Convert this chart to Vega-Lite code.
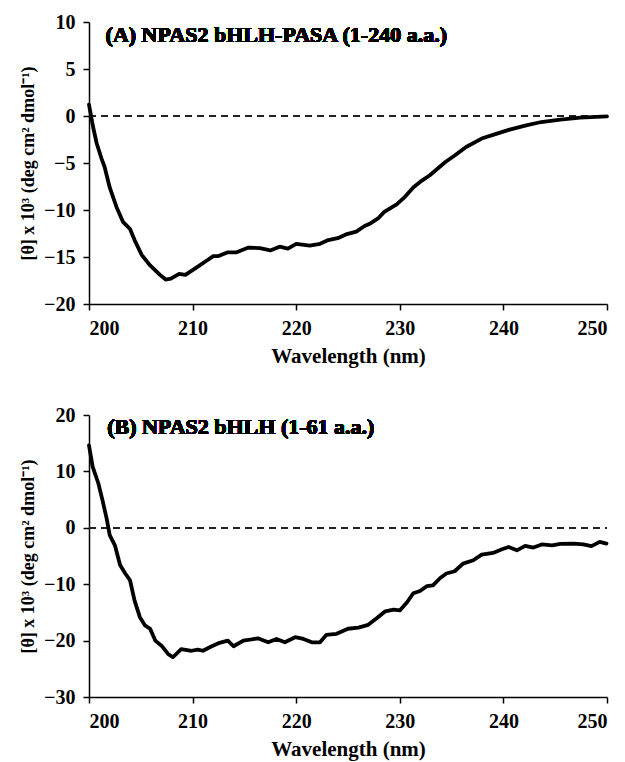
{
  "$schema": "https://vega.github.io/schema/vega-lite/v6.json",
  "background": "white",
  "padding": {"left": 19, "top": 12, "right": 10, "bottom": 5},
  "spacing": 39,
  "config": {
    "font": "Liberation Serif",
    "view": {"stroke": null},
    "text": {"font": "Liberation Serif"},
    "axis": {
      "grid": false,
      "domainColor": "black",
      "domainWidth": 1.5,
      "tickColor": "black",
      "tickWidth": 1.5,
      "tickSize": 6,
      "labelFont": "Liberation Serif",
      "labelFontSize": 20,
      "labelFontWeight": "bold",
      "labelColor": "black",
      "labelPadding": 8,
      "titleFont": "Liberation Serif",
      "titleFontWeight": "bold",
      "titleColor": "black"
    }
  },
  "datasets": {
    "A": [
      {"wl": 200.0, "v": 1.2}, {"wl": 200.4, "v": -1.2}, {"wl": 200.74, "v": -2.9}, {"wl": 201.2, "v": -4.5},
      {"wl": 201.5, "v": -5.4}, {"wl": 202.0, "v": -7.6}, {"wl": 202.66, "v": -9.7}, {"wl": 203.3, "v": -11.3},
      {"wl": 203.95, "v": -12.0}, {"wl": 204.4, "v": -13.2}, {"wl": 205.1, "v": -14.8}, {"wl": 205.9, "v": -15.9},
      {"wl": 206.85, "v": -16.9}, {"wl": 207.4, "v": -17.4}, {"wl": 207.9, "v": -17.3}, {"wl": 208.7, "v": -16.8},
      {"wl": 209.3, "v": -16.9}, {"wl": 210.4, "v": -16.1}, {"wl": 211.2, "v": -15.5}, {"wl": 212.0, "v": -14.9},
      {"wl": 212.5, "v": -14.9}, {"wl": 213.4, "v": -14.5}, {"wl": 214.25, "v": -14.5}, {"wl": 215.4, "v": -14.0},
      {"wl": 216.5, "v": -14.05}, {"wl": 217.5, "v": -14.3}, {"wl": 218.4, "v": -13.9}, {"wl": 219.2, "v": -14.1},
      {"wl": 220.0, "v": -13.6}, {"wl": 221.3, "v": -13.8}, {"wl": 222.3, "v": -13.6}, {"wl": 223.1, "v": -13.2},
      {"wl": 224.0, "v": -13.0}, {"wl": 224.8, "v": -12.6}, {"wl": 225.8, "v": -12.3}, {"wl": 226.6, "v": -11.7},
      {"wl": 227.2, "v": -11.4}, {"wl": 227.9, "v": -10.9}, {"wl": 228.5, "v": -10.2}, {"wl": 229.7, "v": -9.4},
      {"wl": 230.5, "v": -8.6}, {"wl": 231.3, "v": -7.6}, {"wl": 232.1, "v": -6.9}, {"wl": 232.9, "v": -6.3},
      {"wl": 234.4, "v": -4.9}, {"wl": 235.3, "v": -4.2}, {"wl": 236.4, "v": -3.3}, {"wl": 237.9, "v": -2.4},
      {"wl": 239.3, "v": -1.9}, {"wl": 240.6, "v": -1.45}, {"wl": 242.2, "v": -1.0}, {"wl": 243.65, "v": -0.64},
      {"wl": 245.5, "v": -0.38}, {"wl": 247.4, "v": -0.17}, {"wl": 249.0, "v": -0.1}, {"wl": 250.0, "v": -0.05}
    ],
    "B": [
      {"wl": 200.0, "v": 14.6}, {"wl": 200.35, "v": 10.85}, {"wl": 200.9, "v": 7.9}, {"wl": 201.3, "v": 4.9},
      {"wl": 201.7, "v": 1.66}, {"wl": 202.0, "v": -1.3}, {"wl": 202.5, "v": -3.1}, {"wl": 203.0, "v": -6.6},
      {"wl": 203.5, "v": -8.1}, {"wl": 203.96, "v": -9.3}, {"wl": 204.4, "v": -12.9}, {"wl": 204.9, "v": -15.8},
      {"wl": 205.4, "v": -17.3}, {"wl": 205.9, "v": -17.9}, {"wl": 206.4, "v": -20.0}, {"wl": 207.0, "v": -20.9},
      {"wl": 207.65, "v": -22.4}, {"wl": 208.1, "v": -22.95}, {"wl": 208.9, "v": -21.5}, {"wl": 209.9, "v": -21.8},
      {"wl": 210.5, "v": -21.6}, {"wl": 211.0, "v": -21.8}, {"wl": 211.8, "v": -21.05}, {"wl": 212.6, "v": -20.4},
      {"wl": 213.4, "v": -20.0}, {"wl": 213.95, "v": -21.0}, {"wl": 214.9, "v": -20.0}, {"wl": 215.7, "v": -19.8},
      {"wl": 216.3, "v": -19.6}, {"wl": 217.3, "v": -20.3}, {"wl": 218.1, "v": -19.7}, {"wl": 218.9, "v": -20.3},
      {"wl": 219.9, "v": -19.4}, {"wl": 220.7, "v": -19.7}, {"wl": 221.5, "v": -20.3}, {"wl": 222.3, "v": -20.3},
      {"wl": 222.9, "v": -19.0}, {"wl": 223.9, "v": -18.8}, {"wl": 225.0, "v": -17.9}, {"wl": 226.0, "v": -17.7},
      {"wl": 226.95, "v": -17.2}, {"wl": 227.8, "v": -16.0}, {"wl": 228.6, "v": -14.8}, {"wl": 229.4, "v": -14.5},
      {"wl": 230.0, "v": -14.65}, {"wl": 230.7, "v": -13.2}, {"wl": 231.3, "v": -11.6}, {"wl": 231.95, "v": -11.2},
      {"wl": 232.6, "v": -10.35}, {"wl": 233.2, "v": -10.2}, {"wl": 233.9, "v": -8.9}, {"wl": 234.5, "v": -8.1},
      {"wl": 235.3, "v": -7.7}, {"wl": 236.1, "v": -6.35}, {"wl": 237.1, "v": -5.75}, {"wl": 237.9, "v": -4.75},
      {"wl": 239.0, "v": -4.45}, {"wl": 239.8, "v": -3.85}, {"wl": 240.5, "v": -3.4}, {"wl": 241.3, "v": -4.0},
      {"wl": 242.1, "v": -3.2}, {"wl": 242.9, "v": -3.5}, {"wl": 243.7, "v": -2.95}, {"wl": 244.7, "v": -3.1},
      {"wl": 245.5, "v": -2.85}, {"wl": 246.8, "v": -2.8}, {"wl": 247.7, "v": -2.95}, {"wl": 248.5, "v": -3.25},
      {"wl": 249.3, "v": -2.5}, {"wl": 249.95, "v": -2.8}
    ]
  },
  "vconcat": [
    {
      "width": 518,
      "height": 282,
      "data": {"name": "A"},
      "encoding": {
        "x": {"field": "wl", "type": "quantitative", "scale": {"domain": [200, 250], "nice": false, "zero": false},
              "axis": {"values": [200, 210, 220, 230, 240, 250], "title": "Wavelength (nm)", "titlePadding": 7, "titleFontSize": 21}},
        "y": {"field": "v", "type": "quantitative", "scale": {"domain": [-20, 10], "nice": false, "zero": false},
              "axis": {"values": [-20, -15, -10, -5, 0, 5, 10], "title": "[θ] x 10³ (deg cm² dmol⁻¹)", "titlePadding": 6, "titleFontSize": 18}}
      },
      "layer": [
        {"mark": {"type": "rule", "strokeDash": [7, 5], "strokeWidth": 1.6, "color": "#222"},
         "encoding": {"y": {"datum": 0, "type": "quantitative"}, "x": {"datum": 200, "type": "quantitative"}, "x2": {"datum": 250}}},
        {"mark": {"type": "line", "color": "black", "strokeWidth": 3.8, "strokeJoin": "round", "strokeCap": "round"}},
        {"mark": {"type": "text", "align": "left", "baseline": "middle", "fontSize": 22, "fontWeight": "bold", "color": "black"},
         "encoding": {"x": {"datum": 201.6, "type": "quantitative"}, "y": {"datum": 8.6, "type": "quantitative"}, "text": {"value": "(A) NPAS2 bHLH-PASA (1-240 a.a.)"}}}
      ]
    },
    {
      "width": 518,
      "height": 282,
      "data": {"name": "B"},
      "encoding": {
        "x": {"field": "wl", "type": "quantitative", "scale": {"domain": [200, 250], "nice": false, "zero": false},
              "axis": {"values": [200, 210, 220, 230, 240, 250], "title": "Wavelength (nm)", "titlePadding": 7, "titleFontSize": 21}},
        "y": {"field": "v", "type": "quantitative", "scale": {"domain": [-30, 20], "nice": false, "zero": false},
              "axis": {"values": [-30, -20, -10, 0, 10, 20], "title": "[θ] x 10³ (deg cm² dmol⁻¹)", "titlePadding": 6, "titleFontSize": 18}}
      },
      "layer": [
        {"mark": {"type": "rule", "strokeDash": [7, 5], "strokeWidth": 1.6, "color": "#222"},
         "encoding": {"y": {"datum": 0, "type": "quantitative"}, "x": {"datum": 200, "type": "quantitative"}, "x2": {"datum": 250}}},
        {"mark": {"type": "line", "color": "black", "strokeWidth": 3.8, "strokeJoin": "round", "strokeCap": "round"}},
        {"mark": {"type": "text", "align": "left", "baseline": "middle", "fontSize": 22, "fontWeight": "bold", "color": "black"},
         "encoding": {"x": {"datum": 201.75, "type": "quantitative"}, "y": {"datum": 17.8, "type": "quantitative"}, "text": {"value": "(B) NPAS2 bHLH (1-61 a.a.)"}}}
      ]
    }
  ]
}
